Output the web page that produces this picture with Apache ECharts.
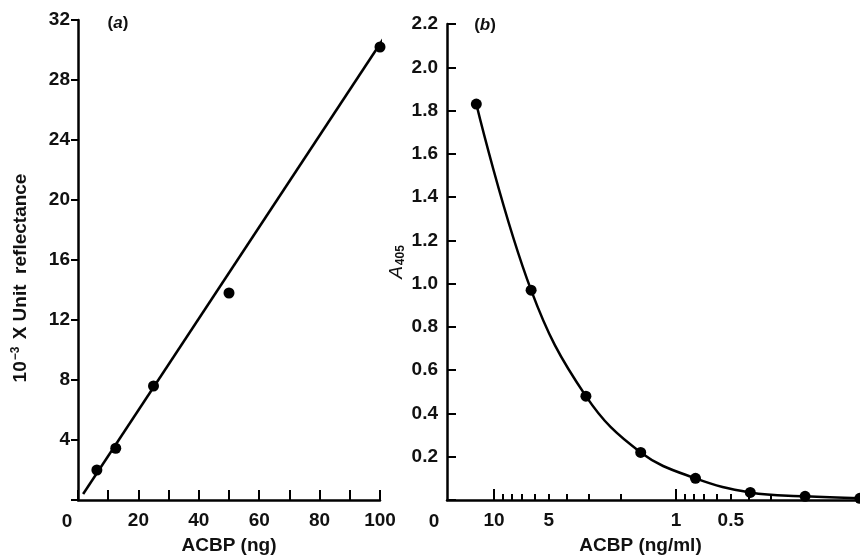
<!DOCTYPE html>
<html><head><meta charset="utf-8">
<script src="https://cdn.jsdelivr.net/npm/echarts@6/dist/echarts.min.js"></script>
<style>html,body{margin:0;padding:0;background:#fff}#c{width:860px;height:560px}</style>
</head><body><div id="c"></div>
<script>
// ---- Panel (a) ----
const acbpNg = [6.25, 12.5, 25, 50, 100];
const reflectance = [2.0, 3.45, 7.6, 13.8, 30.2];
const fitLineX = [1.7, 102.6];
const fitLineY = [0.4, 31.2];
// ---- Panel (b) ----
const acbpNgMl = [12.5, 6.25, 3.125, 1.5625, 0.78125, 0.390625, 0.1953, 0.0977];
const a405 = [1.83, 0.97, 0.48, 0.22, 0.10, 0.035, 0.017, 0.008];
const bXLabelValues = [10, 5, 1, 0.5];
const bXLabels = ['10', '5', '1', '0.5'];
const bXMinorTicks = [9, 8, 7, 6, 5, 4, 3, 2, 0.9, 0.8, 0.7, 0.6, 0.5, 0.4, 0.3, 0.2];
const bXMajorTicks = [10, 1];

const FONT = 'Liberation Sans, Arial, sans-serif';
const TXT = '#111';
const lbl = {fontFamily: FONT, fontSize: 19, fontWeight: 'bold', color: TXT};
const axLine = {show: true, onZero: false, lineStyle: {color: '#000', width: 2.5}};
const lg = v => Math.log10(v);

const chart = echarts.init(document.getElementById('c'), null, {renderer: 'canvas'});
chart.setOption({
  animation: false,
  backgroundColor: '#fff',
  grid: [
    {left: 78, top: 20, width: 302, bottom: 57},
    {left: 447, top: 24, right: 0, bottom: 57}
  ],
  xAxis: [
    {
      gridIndex: 0, type: 'value', min: 0, max: 100, interval: 10,
      axisLine: axLine,
      axisTick: {show: true, inside: true, length: 10, lineStyle: {color: '#000', width: 2}},
      axisLabel: Object.assign({margin: 11, formatter: v => (v % 20 === 0 && v !== 0) ? String(v) : ''}, lbl),
      splitLine: {show: false},
      name: 'ACBP (ng)', nameLocation: 'middle', nameGap: 36,
      nameTextStyle: Object.assign({}, lbl)
    },
    {
      gridIndex: 1, type: 'value', min: -1.011, max: 1.258, inverse: true,
      axisLine: axLine,
      axisTick: {show: true, inside: true, length: 6, customValues: bXMinorTicks.map(lg), lineStyle: {color: '#000', width: 2}},
      axisLabel: Object.assign({
        margin: 11, customValues: bXLabelValues.map(lg),
        formatter: v => {
          let best = 0, d = 1e9;
          bXLabelValues.forEach((t, i) => { const dd = Math.abs(lg(t) - v); if (dd < d) { d = dd; best = i; } });
          return bXLabels[best];
        }
      }, lbl),
      splitLine: {show: false},
      name: 'ACBP (ng/ml)', nameLocation: 'middle', nameGap: 36,
      nameTextStyle: Object.assign({padding: [0, 26, 0, 0]}, lbl)
    },
    {
      gridIndex: 1, type: 'value', min: -1.011, max: 1.258, inverse: true, position: 'bottom',
      axisLine: {show: false, onZero: false},
      axisTick: {show: true, inside: true, length: 11, customValues: bXMajorTicks.map(lg), lineStyle: {color: '#000', width: 2}},
      axisLabel: {show: false},
      splitLine: {show: false}
    }
  ],
  yAxis: [
    {
      gridIndex: 0, type: 'value', min: 0, max: 32, interval: 4,
      axisLine: axLine,
      axisTick: {show: true, inside: false, length: 7, lineStyle: {color: '#000', width: 2}},
      axisLabel: Object.assign({margin: 8, formatter: v => v === 0 ? '' : String(v)}, lbl),
      splitLine: {show: false},
      name: '{t|10}{s|−3}{t| X Unit  reflectance}', nameLocation: 'middle', nameGap: 46,
      nameTextStyle: {
        padding: [0, 36, 0, 0],
        rich: {
          t: Object.assign({}, lbl),
          s: {fontFamily: FONT, fontSize: 12, fontWeight: 'bold', color: TXT, verticalAlign: 'top', padding: [0, 2, 10, 1]}
        }
      }
    },
    {
      gridIndex: 1, type: 'value', min: 0, max: 2.2, interval: 0.2,
      axisLine: axLine,
      axisTick: {show: true, inside: true, length: 9, lineStyle: {color: '#000', width: 2}},
      axisLabel: Object.assign({margin: 9, formatter: v => v === 0 ? '' : v.toFixed(1)}, lbl),
      splitLine: {show: false},
      name: '{a|A}{s|405}', nameLocation: 'middle', nameGap: 40,
      nameTextStyle: {
        rich: {
          a: {fontFamily: FONT, fontSize: 19, fontStyle: 'italic', color: TXT},
          s: {fontFamily: FONT, fontSize: 12, fontWeight: 'bold', color: TXT, verticalAlign: 'bottom', padding: [8, 0, 0, 1]}
        }
      }
    }
  ],
  series: [
    {
      type: 'line', xAxisIndex: 0, yAxisIndex: 0, clip: false, showSymbol: false, silent: true,
      data: fitLineX.map((x, i) => [x, fitLineY[i]]),
      lineStyle: {color: '#000', width: 2.5}
    },
    {
      type: 'scatter', xAxisIndex: 0, yAxisIndex: 0, symbolSize: 11,
      data: acbpNg.map((x, i) => [x, reflectance[i]]),
      itemStyle: {color: '#000', opacity: 1}
    },
    {
      type: 'line', xAxisIndex: 1, yAxisIndex: 1, smooth: 0.4, clip: false,
      symbol: 'circle', symbolSize: 11, showSymbol: true,
      data: acbpNgMl.map((x, i) => [lg(x), a405[i]]),
      itemStyle: {color: '#000', opacity: 1},
      lineStyle: {color: '#000', width: 2.5}
    }
  ],
  graphic: [
    {type: 'text', x: 67, y: 522, style: {text: '0', font: 'bold 19px ' + FONT, fill: TXT, align: 'center', verticalAlign: 'middle'}},
    {type: 'text', x: 434, y: 522, style: {text: '0', font: 'bold 19px ' + FONT, fill: TXT, align: 'center', verticalAlign: 'middle'}},
    {type: 'text', x: 118, y: 23, style: {text: '({i|a})', font: 'bold 17px ' + FONT, fill: TXT, align: 'center', verticalAlign: 'middle',
      rich: {i: {fontFamily: FONT, fontSize: 17, fontStyle: 'italic', fontWeight: 'bold', color: TXT}}}},
    {type: 'text', x: 485, y: 25, style: {text: '({i|b})', font: 'bold 17px ' + FONT, fill: TXT, align: 'center', verticalAlign: 'middle',
      rich: {i: {fontFamily: FONT, fontSize: 17, fontStyle: 'italic', fontWeight: 'bold', color: TXT}}}}
  ]
});
</script></body></html>
